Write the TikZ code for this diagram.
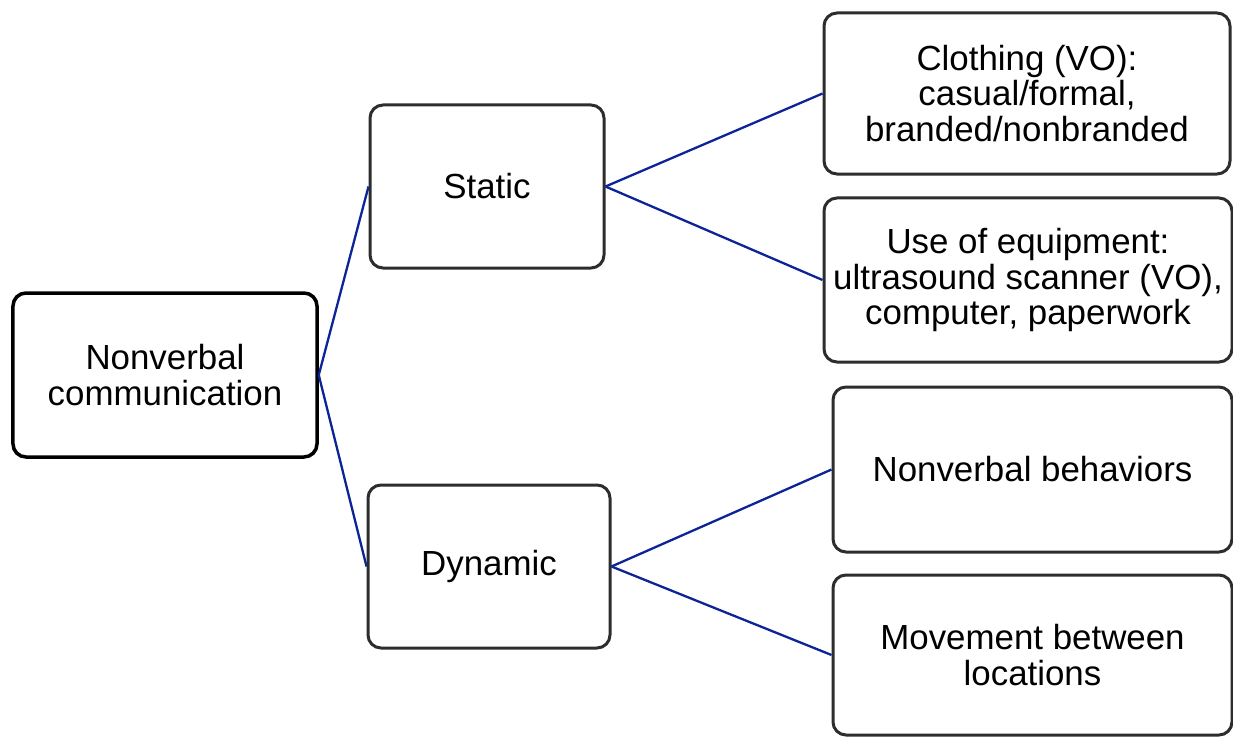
\documentclass[tikz,border=0pt]{standalone}
\usepackage{fontspec}
\setmainfont{Liberation Sans}
\definecolor{linkblue}{RGB}{12,36,150}
\definecolor{boxgray}{RGB}{45,45,45}
\begin{document}
\begin{tikzpicture}[x=1bp,y=-1bp,
  box/.style={draw=boxgray, line width=3bp, rounded corners=13bp, fill=white,
    align=center, inner sep=0pt,
    font=\fontsize{35}{35.5}\selectfont},
  rootbox/.style={box, draw=black, line width=3.5bp},
  link/.style={draw=linkblue, line width=2.3bp}]
\useasboundingbox[fill=white] (0,0) rectangle (1233,737);

% boxes (centres and sizes in pixel units)
\node[rootbox, minimum width=304bp, minimum height=164bp] (nv) at (165,375)
  {Nonverbal\\communication};
\node[box, minimum width=234bp, minimum height=163bp] (st) at (487,186.5) {Static};
\node[box, minimum width=242bp, minimum height=163bp] (dy) at (489,566.5) {Dynamic};
\node[box, minimum width=406bp, minimum height=161bp] (cl) at (1027,93.5)
  {Clothing (VO):\\casual/formal,\\branded/nonbranded};
\node[box, minimum width=408bp, minimum height=164bp] (eq) at (1028,280)
  {Use of equipment:\\ultrasound scanner (VO),\\computer, paperwork};
\node[box, minimum width=399bp, minimum height=165bp] (nb) at (1032.5,469.5)
  {Nonverbal behaviors};
\node[box, minimum width=399bp, minimum height=160bp] (mv) at (1032.5,655)
  {Movement between\\locations};

% connectors
\draw[link] (nv.east) -- (st.west);
\draw[link] (nv.east) -- (dy.west);
\draw[link] (st.east) -- (cl.west);
\draw[link] (st.east) -- (eq.west);
\draw[link] (dy.east) -- (nb.west);
\draw[link] (dy.east) -- (mv.west);
\end{tikzpicture}
\end{document}
